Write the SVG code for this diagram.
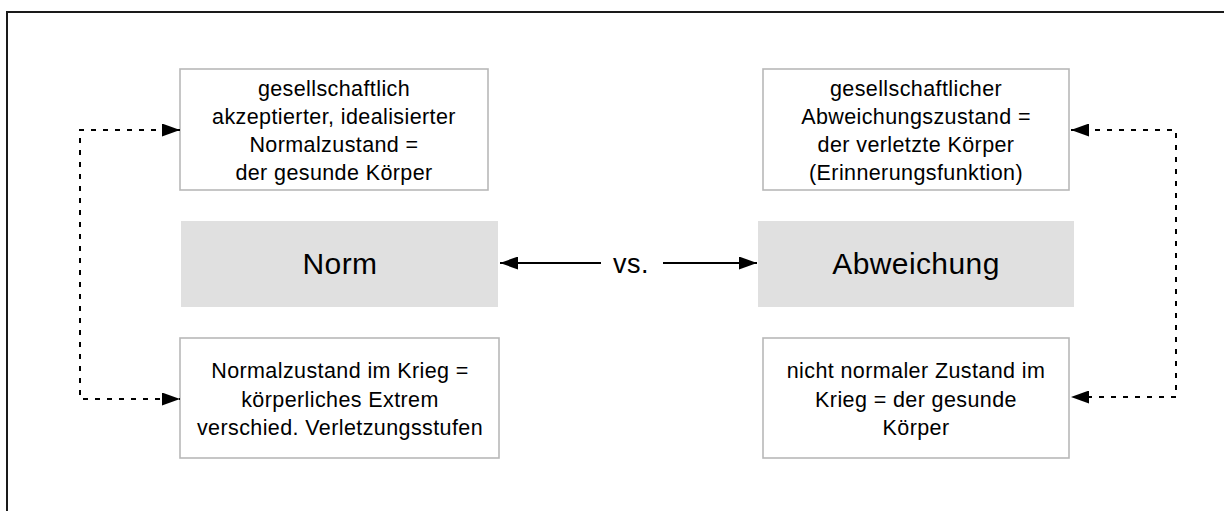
<svg xmlns="http://www.w3.org/2000/svg" width="1224" height="511" viewBox="0 0 1224 511">
<style>
  .frame { fill: none; stroke: #1a1a1a; stroke-width: 2; }
  .box { fill: #ffffff; stroke: #b8b8b8; stroke-width: 1.6; }
  .main { fill: #e0e0e0; stroke: none; }
  .t { font-family: "Liberation Sans", Arial, Helvetica, sans-serif; font-size: 21.5px; letter-spacing: 0.4px; fill: #000; text-anchor: middle; }
  .big { font-family: "Liberation Sans", Arial, Helvetica, sans-serif; font-size: 30px; letter-spacing: 0.4px; fill: #000; text-anchor: middle; }
  .vs { font-family: "Liberation Sans", Arial, Helvetica, sans-serif; font-size: 27px; letter-spacing: 0.5px; fill: #000; text-anchor: middle; }
  .solid { fill: none; stroke: #000; stroke-width: 2; }
  .dot { fill: none; stroke: #000; stroke-width: 2; stroke-dasharray: 5 7; }
</style>
<defs>
  <marker id="ah" markerUnits="userSpaceOnUse" markerWidth="18" markerHeight="13" refX="18" refY="6.5" orient="auto-start-reverse">
    <path d="M0,0 L18,6.5 L0,13 Z" fill="#000"/>
  </marker>
</defs>
<rect width="1224" height="511" fill="#ffffff"/>
<rect class="frame" x="7" y="12" width="1240" height="520"/>

<g id="node-norm-top">
  <rect class="box" x="180" y="69" width="308" height="121"/>
  <text class="t" x="334" y="96">gesellschaftlich</text>
  <text class="t" x="334" y="124">akzeptierter, idealisierter</text>
  <text class="t" x="334" y="152">Normalzustand =</text>
  <text class="t" x="334" y="180">der gesunde Körper</text>
</g>

<g id="node-norm">
  <rect class="main" x="181" y="221" width="317" height="86"/>
  <text class="big" x="340" y="274">Norm</text>
</g>

<g id="node-norm-bottom">
  <rect class="box" x="180" y="338" width="319" height="120"/>
  <text class="t" x="340" y="378">Normalzustand im Krieg =</text>
  <text class="t" x="340" y="407">körperliches Extrem</text>
  <text class="t" x="340" y="435">verschied. Verletzungsstufen</text>
</g>

<g id="node-abw-top">
  <rect class="box" x="763" y="69" width="306" height="121"/>
  <text class="t" x="916" y="96">gesellschaftlicher</text>
  <text class="t" x="916" y="124">Abweichungszustand =</text>
  <text class="t" x="916" y="152">der verletzte Körper</text>
  <text class="t" x="916" y="180">(Erinnerungsfunktion)</text>
</g>

<g id="node-abw">
  <rect class="main" x="758" y="221" width="316" height="86"/>
  <text class="big" x="916" y="274">Abweichung</text>
</g>

<g id="node-abw-bottom">
  <rect class="box" x="763" y="338" width="306" height="120"/>
  <text class="t" x="916" y="378">nicht normaler Zustand im</text>
  <text class="t" x="916" y="407">Krieg = der gesunde</text>
  <text class="t" x="916" y="435">Körper</text>
</g>

<g id="connectors">
  <line class="solid" x1="601" y1="263" x2="500" y2="263" marker-end="url(#ah)"/>
  <text class="vs" x="631" y="273">vs.</text>
  <line class="solid" x1="663" y1="263" x2="757" y2="263" marker-end="url(#ah)"/>
  <path class="dot" d="M180,130 H80 V399 H180" marker-start="url(#ah)" marker-end="url(#ah)"/>
  <path class="dot" d="M1071,130 H1176 V397 H1071" marker-start="url(#ah)" marker-end="url(#ah)"/>
</g>
</svg>
